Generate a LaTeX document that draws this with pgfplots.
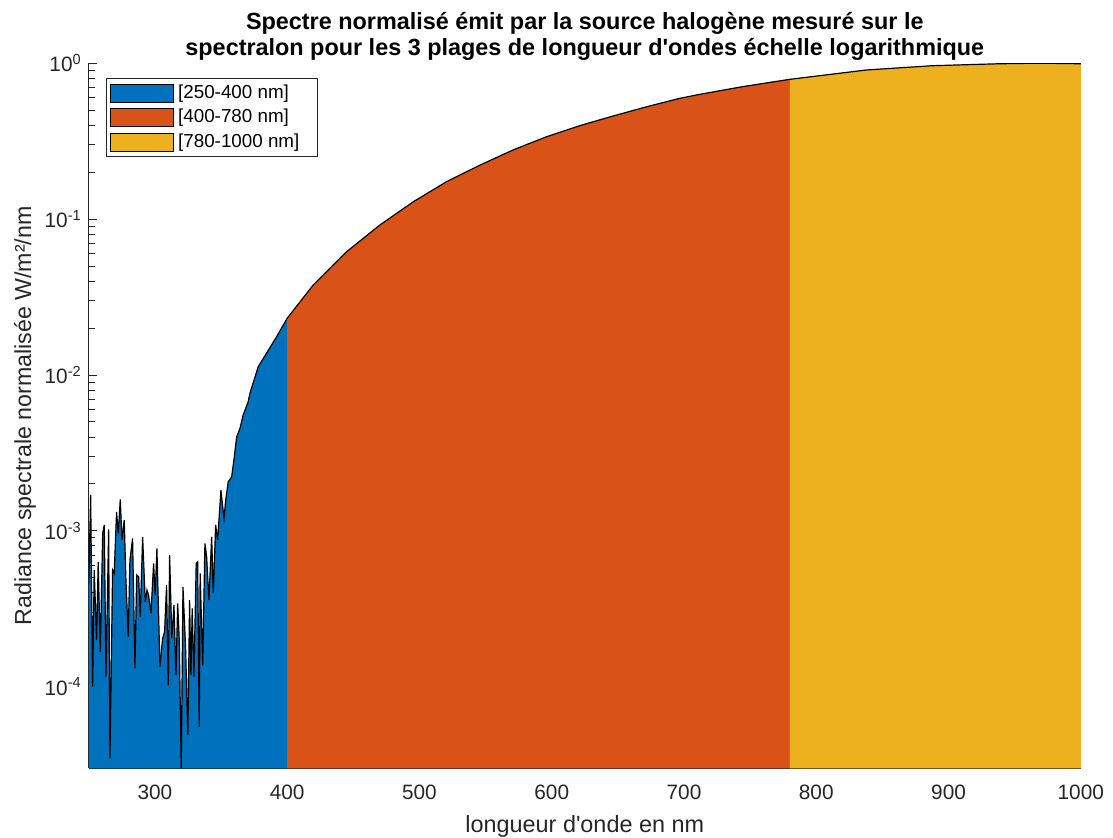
\documentclass[border=0pt]{standalone}
\usepackage{fontspec}
\setmainfont{Liberation Sans}
\usepackage{pgfplots}
\pgfplotsset{compat=1.18}
\usepackage{pgfplotstable}
\definecolor{mblue}{rgb}{0,0.447,0.741}
\definecolor{morange}{rgb}{0.85,0.325,0.098}
\definecolor{myellow}{rgb}{0.929,0.694,0.125}
\definecolor{axgray}{rgb}{0.15,0.15,0.15}
\newcommand{\tenexp}[1]{10\textsuperscript{#1}}

\pgfplotstableread{
x y
250 4.59e-4
251.4 1.70e-3
252.9 1.0e-4
254.1 5.60e-4
255.9 1.99e-4
257.1 6.32e-4
258.7 1.67e-4
260.5 9.62e-4
261.7 1.09e-3
263.0 1.16e-4
265.0 1.02e-3
266.0 3.46e-5
268.0 5.60e-4
269.2 5.33e-4
271.0 1.32e-3
272.3 9.62e-4
273.8 1.59e-3
275.1 8.71e-4
276.8 1.17e-3
278.0 5.07e-4
279.8 2.09e-4
281.1 6.49e-4
283.1 8.93e-4
284.9 1.31e-4
286.2 5.20e-4
287.7 5.07e-4
288.9 2.81e-4
290.7 9.15e-4
292.7 3.50e-4
294.0 4.16e-4
295.2 3.86e-4
297.0 2.95e-4
299.0 6.18e-4
300.2 3.86e-4
301.5 7.71e-4
303.8 1.34e-4
305.8 2.04e-4
307.3 2.25e-4
308.8 4.48e-4
310.1 1.02e-4
311.1 6.98e-4
312.8 2.04e-4
314.4 3.34e-4
315.9 1.19e-4
317.2 3.42e-4
318.4 1.99e-4
319.9 3.0e-5
321.2 4.37e-4
323.2 1.76e-4
324.9 4.89e-5
326.2 3.59e-4
327.2 1.19e-4
328.2 3.18e-4
329.5 1.16e-4
331.2 6.18e-4
332.3 6.32e-4
333.5 5.52e-5
334.2 5.33e-4
336.1 1.37e-4
337.8 8.30e-4
339.1 6.81e-4
340.8 3.59e-4
342.9 9.15e-4
344.1 3.96e-4
345.9 1.09e-3
347.4 8.71e-4
349.9 1.82e-3
352.2 1.20e-3
353.5 1.57e-3
355.4 2.06e-3
358.0 2.22e-3
359.7 2.84e-3
361.8 4.01e-3
364.3 4.54e-3
366.7 5.53e-3
370.5 6.73e-3
371.8 7.62e-3
378.1 1.13e-2
384.4 1.38e-2
392.0 1.76e-2
400 2.31e-2
}\dataA

\pgfplotstableread{
x y
400 2.31e-2
419.7 3.78e-2
444.9 6.18e-2
470.1 9.17e-2
495.2 0.129
520.5 0.174
545.7 0.222
570.8 0.278
596.1 0.338
621.2 0.398
646.4 0.459
671.7 0.526
696.8 0.596
711.9 0.632
745 0.71
780 0.789
}\dataB

\pgfplotstableread{
x y
780 0.789
838 0.906
888 0.965
938 0.993
963 1.0
985 0.998
1000 0.993
}\dataC

\begin{document}
\begin{tikzpicture}
\useasboundingbox (-44.4pt,-34.85pt) rectangle (512.1pt,384.15pt);
\begin{axis}[
  at={(0,0)}, anchor=south west,
  scale only axis, width=496pt, height=352.5pt,
  xmin=250, xmax=1000,
  ymode=log, ymin=2.99e-5, ymax=1,
  log origin y=infty,
  axis lines=left,
  axis line style={-, draw=axgray, line width=0.4pt},
  tick style={draw=axgray, line width=0.4pt},
  tick align=inside,
  major tick length=4pt, minor tick length=3pt,
  xtick={300,400,...,1000},
  xticklabel style={/pgf/number format/1000 sep={}, yshift=-4.8pt},
  ytick={1e-4,1e-3,1e-2,1e-1,1},
  yticklabels={\tenexp{-4},\tenexp{-3},\tenexp{-2},\tenexp{-1},\tenexp{0}},
  /pgf/number format/assume math mode=true,
  tick label style={font=\fontsize{10.4}{12}\selectfont, text=axgray},
  xlabel={longueur d\textquotesingle onde en nm},
  ylabel={Radiance spectrale normalisée W/m²/nm},
  every axis x label/.style={at={(axis description cs:0.5,-0.0818)}, anchor=center,
    font=\fontsize{11.7}{13}\selectfont, text=axgray},
  every axis y label/.style={at={(axis description cs:-0.0643,0.5)}, rotate=90, anchor=center,
    font=\fontsize{11.6}{13}\selectfont, text=axgray},
  title={Spectre normalisé émit par la source halogène mesuré sur le\\spectralon pour les 3 plages de longueur d\textquotesingle ondes échelle logarithmique},
  title style={at={(0.5,1)}, anchor=south, align=center, font=\bfseries\fontsize{11.7}{13}\selectfont, yshift=-7.9pt},
  legend style={at={(0.0173,0.9787)}, anchor=north west, draw=axgray, line width=0.4pt,
    font=\fontsize{9.4}{11}\selectfont, inner xsep=2pt, inner ysep=1pt, row sep=0pt},
  legend cell align=left,
  legend image code/.code={\draw[#1, draw=black, line width=0.4pt] (0pt,-4.5pt) rectangle (31.5pt,4.5pt);},
]
\addplot[fill=mblue, draw=none] table {\dataA} \closedcycle;
\addlegendentry{[250-400 nm]}
\addplot[fill=morange, draw=none] table {\dataB} \closedcycle;
\addlegendentry{[400-780 nm]}
\addplot[fill=myellow, draw=none] table {\dataC} \closedcycle;
\addlegendentry{[780-1000 nm]\hphantom{0}}
\addplot[black, line width=0.6pt, forget plot] table {\dataA};
\addplot[black, line width=0.6pt, forget plot] table {\dataB};
\addplot[black, line width=0.6pt, forget plot] table {\dataC};
\end{axis}
\end{tikzpicture}
\end{document}
